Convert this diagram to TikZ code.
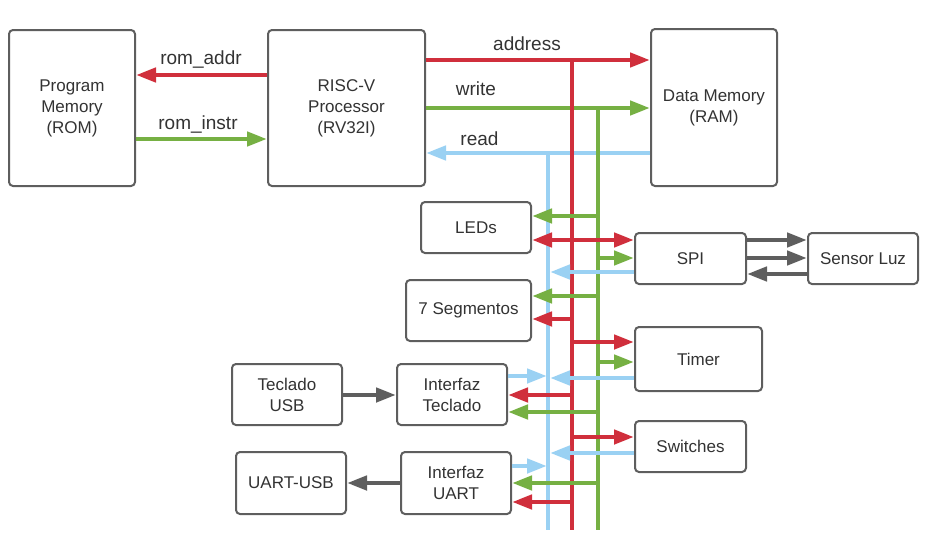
\documentclass[tikz,border=0pt]{standalone}
\usepackage{fontspec}
\setmainfont{Liberation Sans}
\usetikzlibrary{arrows.meta}
\definecolor{cred}{HTML}{D02F3C}
\definecolor{cgreen}{HTML}{76B043}
\definecolor{cblue}{HTML}{9AD1F3}
\definecolor{cgray}{HTML}{5E5E5E}
\definecolor{ctext}{HTML}{333333}
\tikzset{
  blk/.style={draw=cgray, line width=2pt, rounded corners=4pt, fill=white,
    align=center, inner sep=0pt, text=ctext,
    font=\fontsize{17}{21}\selectfont},
  tip/.style={-{Triangle[length=20pt,width=14pt]}},
  rline/.style={draw=cred, line width=4.5pt},
  gline/.style={draw=cgreen, line width=4.5pt},
  bline/.style={draw=cblue, line width=4.5pt},
  kline/.style={draw=cgray, line width=4.5pt},
  lbl/.style={text=ctext, anchor=base, inner sep=0pt, font=\fontsize{19}{22}\selectfont},
}
\begin{document}
\begin{tikzpicture}[x=1pt,y=-1pt]
\useasboundingbox (0,0) rectangle (930,538);
% boxes
\node[blk, minimum width=126pt, minimum height=156pt] (rom) at (72,108) {Program\\Memory\\(ROM)};
\node[blk, minimum width=157pt, minimum height=156pt] (cpu) at (346.5,108) {RISC-V\\Processor\\(RV32I)};
\node[blk, minimum width=126pt, minimum height=157pt] (ram) at (714,107.5) {Data Memory\\(RAM)};
\node[blk, minimum width=110pt, minimum height=51pt] (leds) at (476,227.5) {LEDs};
\node[blk, minimum width=111pt, minimum height=51pt] (spi) at (690.5,258.5) {SPI};
\node[blk, minimum width=110pt, minimum height=51pt] (sensor) at (863,258.5) {Sensor Luz};
\node[blk, minimum width=125pt, minimum height=61pt] (seg) at (468.5,310.5) {7 Segmentos};
\node[blk, minimum width=127pt, minimum height=64pt] (timer) at (698.5,359) {Timer};
\node[blk, minimum width=110pt, minimum height=61pt] (tusb) at (287,394.5) {Teclado\\USB};
\node[blk, minimum width=110pt, minimum height=61pt] (itec) at (452,394.5) {Interfaz\\Teclado};
\node[blk, minimum width=111pt, minimum height=51pt] (sw) at (690.5,446.5) {Switches};
\node[blk, minimum width=110pt, minimum height=62pt] (uusb) at (291,483) {UART-USB};
\node[blk, minimum width=110pt, minimum height=62pt] (iuart) at (456,483) {Interfaz\\UART};

% bus coordinates
\coordinate (bTop) at (548,153);
\coordinate (bBot) at (548,530);
\coordinate (rTop) at (572,60);
\coordinate (rBot) at (572,530);
\coordinate (gTop) at (598,108);
\coordinate (gBot) at (598,530);

% top connections
\draw[rline, tip] (cpu.west |- 0,75) -- (rom.east |- 0,75);
\draw[gline, tip] (rom.east |- 0,139) -- (cpu.west |- 0,139);
\draw[rline, tip] (cpu.east |- 0,60) -- (ram.west |- 0,60);
\draw[gline, tip] (cpu.east |- 0,108) -- (ram.west |- 0,108);
\draw[bline, tip] (ram.west |- 0,153) -- (cpu.east |- 0,153);
\node[lbl] (lra) at (201,64) {rom\_addr};
\node[lbl] (lri) at (198,129) {rom\_instr};
\node[lbl] (lad) at (527,50) {address};
\node[lbl] (lwr) at (476,95) {write};
\node[lbl] (lrd) at (479.5,145) {read};

% buses
\draw[bline] (bTop) -- (bBot);
\draw[rline] (rTop) -- (rBot);
\draw[gline] (gTop) -- (gBot);

% LEDs
\draw[gline, tip] (598,216) -- (leds.east |- 0,216);
\draw[rline, tip] (572,240) -- (leds.east |- 0,240);
% SPI
\draw[rline, tip] (572,240) -- (spi.west |- 0,240);
\draw[gline, tip] (598,258) -- (spi.west |- 0,258);
\draw[bline, tip] (spi.west |- 0,272) -- (550,272);
% SPI - Sensor
\draw[kline, tip] (spi.east |- 0,240) -- (sensor.west |- 0,240);
\draw[kline, tip] (spi.east |- 0,258) -- (sensor.west |- 0,258);
\draw[kline, tip] (sensor.west |- 0,274) -- (spi.east |- 0,274);
% 7 seg
\draw[gline, tip] (598,296) -- (seg.east |- 0,296);
\draw[rline, tip] (572,319) -- (seg.east |- 0,319);
% Timer
\draw[rline, tip] (572,342) -- (timer.west |- 0,342);
\draw[gline, tip] (598,362) -- (timer.west |- 0,362);
\draw[bline, tip] (timer.west |- 0,378) -- (550,378);
% Interfaz Teclado
\draw[bline, tip] (itec.east |- 0,376) -- (547,376);
\draw[rline, tip] (572,395) -- (itec.east |- 0,395);
\draw[gline, tip] (598,412) -- (itec.east |- 0,412);
\draw[kline, tip] (tusb.east |- 0,395) -- (itec.west |- 0,395);
% Switches
\draw[rline, tip] (572,437) -- (sw.west |- 0,437);
\draw[bline, tip] (sw.west |- 0,453) -- (550,453);
% Interfaz UART
\draw[bline, tip] (iuart.east |- 0,466) -- (547,466);
\draw[gline, tip] (598,483) -- (iuart.east |- 0,483);
\draw[rline, tip] (572,502) -- (iuart.east |- 0,502);
\draw[kline, tip] (iuart.west |- 0,483) -- (uusb.east |- 0,483);
\end{tikzpicture}
\end{document}
